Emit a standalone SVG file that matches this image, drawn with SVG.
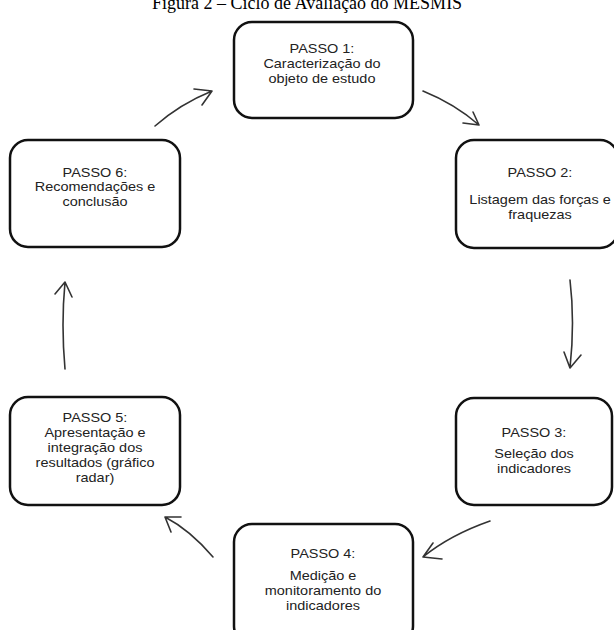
<svg xmlns="http://www.w3.org/2000/svg" width="614" height="630" viewBox="0 0 614 630">
<style>
.box{fill:#fff;stroke:#111;stroke-width:2.5}
.t{font-family:"Liberation Sans",Arial,sans-serif;font-size:12.8px;fill:#222;text-anchor:middle}
.title{font-family:"Liberation Serif","Times New Roman",serif;font-size:18px;fill:#000}
.c{fill:none;stroke:#333;stroke-width:1.6;stroke-linecap:round;stroke-linejoin:round}
</style>
<rect width="614" height="630" fill="#fff"/>
<text class="title" x="152" y="9">Figura 2 – Ciclo de Avaliação do MESMIS</text>
<g id="passo1">
<rect class="box" x="234" y="22" width="179" height="96" rx="18"/>
<text class="t" transform="translate(322,52.5) scale(1.13,1)">PASSO 1:</text>
<text class="t" transform="translate(322,67.5) scale(1.13,1)">Caracterização do</text>
<text class="t" transform="translate(322,82.5) scale(1.13,1)">objeto de estudo</text>
</g>
<g id="passo2">
<rect class="box" x="456" y="140" width="162" height="108" rx="18"/>
<text class="t" transform="translate(540,177) scale(1.13,1)">PASSO 2:</text>
<text class="t" transform="translate(540,204) scale(1.13,1)">Listagem das forças e</text>
<text class="t" transform="translate(540,218.5) scale(1.13,1)">fraquezas</text>
</g>
<g id="passo3">
<rect class="box" x="456" y="398" width="156" height="107" rx="18"/>
<text class="t" transform="translate(534,437) scale(1.13,1)">PASSO 3:</text>
<text class="t" transform="translate(534,458) scale(1.13,1)">Seleção dos</text>
<text class="t" transform="translate(534,472.5) scale(1.13,1)">indicadores</text>
</g>
<g id="passo4">
<rect class="box" x="234" y="524" width="179" height="120" rx="18"/>
<text class="t" transform="translate(323,558) scale(1.13,1)">PASSO 4:</text>
<text class="t" transform="translate(323,580) scale(1.13,1)">Medição e</text>
<text class="t" transform="translate(323,594.5) scale(1.13,1)">monitoramento do</text>
<text class="t" transform="translate(323,609.5) scale(1.13,1)">indicadores</text>
</g>
<g id="passo5">
<rect class="box" x="10" y="397" width="170" height="108" rx="18"/>
<text class="t" transform="translate(95,422) scale(1.13,1)">PASSO 5:</text>
<text class="t" transform="translate(95,437) scale(1.13,1)">Apresentação e</text>
<text class="t" transform="translate(95,452) scale(1.13,1)">integração dos</text>
<text class="t" transform="translate(95,467) scale(1.13,1)">resultados (gráfico</text>
<text class="t" transform="translate(95,482) scale(1.13,1)">radar)</text>
</g>
<g id="passo6">
<rect class="box" x="10" y="140" width="170" height="107" rx="18"/>
<text class="t" transform="translate(95,176.5) scale(1.13,1)">PASSO 6:</text>
<text class="t" transform="translate(95,191) scale(1.13,1)">Recomendações e</text>
<text class="t" transform="translate(95,205.5) scale(1.13,1)">conclusão</text>
</g>
<g id="connectors">
<path class="c" d="M155,126 Q180,104 212,91 M194,89 L212,91 L202,105"/>
<path class="c" d="M423,91 Q455,104 479,125 M473,112 L479,125 L463,123"/>
<path class="c" d="M570,280 Q575,322 570,368 M564,352 L570,368 L581,355"/>
<path class="c" d="M490,521 Q450,535 423,557 M433,543 L423,557 L442,559"/>
<path class="c" d="M213,557 Q190,530 165,517 M171,532 L165,517 L181,517"/>
<path class="c" d="M65,369 Q61,325 65,282 M55,294 L65,282 L72,297"/>
</g>
</svg>
